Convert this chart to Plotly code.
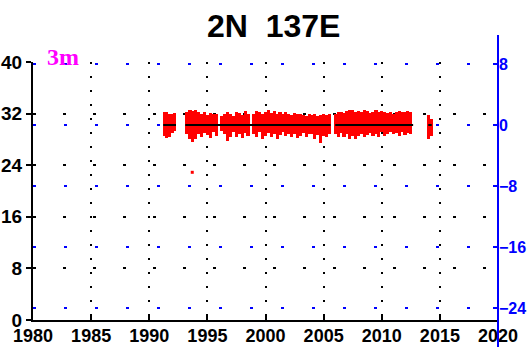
import plotly.graph_objects as go

# ---------------- data ----------------
years = [1991.3, 1991.5, 1991.75, 1992.0, 1992.2,
         1993.25, 1993.5, 1993.75, 1994.0, 1994.25, 1994.5, 1994.75, 1995.0, 1995.25, 1995.5, 1995.75,
         1996.25, 1996.5, 1996.75, 1997.0, 1997.25, 1997.5, 1997.75, 1998.0, 1998.25, 1998.5,
         1999.0, 1999.25, 1999.5, 1999.75, 2000.0, 2000.25, 2000.5, 2000.75, 2001.0, 2001.25,
         2001.5, 2001.75, 2002.0, 2002.25, 2002.5, 2002.75, 2003.0, 2003.25, 2003.5, 2003.75,
         2004.0, 2004.25, 2004.5, 2004.75, 2005.0, 2005.25, 2005.5,
         2006.0, 2006.25, 2006.5, 2006.75, 2007.0, 2007.25, 2007.5, 2007.75, 2008.0, 2008.25,
         2008.5, 2008.75, 2009.0, 2009.25, 2009.5, 2009.75, 2010.0, 2010.25, 2010.5, 2010.75,
         2011.0, 2011.25, 2011.5, 2011.75, 2012.0, 2012.25, 2012.5,
         2014.05, 2014.25]
temp_max = [32.2, 32.3, 32.0, 31.9, 32.1,
            32.3, 32.5, 32.4, 32.6, 32.3, 31.9, 32.2, 31.8, 32.1, 31.9, 32.0,
            31.6, 32.0, 32.2, 31.9, 31.7, 32.3, 32.1, 31.8, 32.4, 32.0,
            32.0, 32.4, 32.2, 31.9, 32.3, 32.5, 32.1, 32.4, 32.0, 32.3,
            31.9, 32.2, 32.0, 31.8, 32.1, 31.9, 32.0, 31.8, 31.7, 31.9,
            31.8, 31.9, 31.7, 31.8, 31.9, 31.8, 31.9,
            32.0, 32.2, 32.3, 32.1, 32.4, 32.6, 32.5, 32.3, 32.4, 32.2,
            32.5, 32.4, 32.1, 32.3, 32.5, 32.2, 32.4, 32.3, 32.1, 32.2,
            32.0, 32.3, 32.4, 32.2, 32.3, 32.4, 32.3,
            31.8, 31.2]
temp_min = [28.6, 28.2, 28.3, 29.0, 29.3,
            28.8, 28.1, 27.6, 28.0, 28.9, 28.4, 29.0, 28.7, 28.2, 29.2, 28.6,
            29.3, 28.9, 27.8, 28.4, 29.1, 28.3, 28.9, 28.2, 29.0, 28.6,
            28.8, 28.4, 29.2, 28.0, 28.6, 29.0, 28.3, 28.9, 28.1, 28.7,
            29.1, 28.5, 28.9, 28.4, 28.8, 28.2, 28.6, 29.0, 28.4, 28.8,
            28.9, 28.1, 28.7, 27.5, 28.6, 28.3, 28.9,
            28.8, 28.4, 29.0, 28.3, 28.8, 28.1, 28.6, 28.0, 28.5, 28.9,
            28.3, 28.7, 29.0, 28.5, 28.9, 28.4, 29.1, 28.6, 28.9, 29.2,
            28.8, 29.0, 28.5, 29.2, 28.7, 29.0, 28.8,
            28.0, 28.6]
outlier_year = [1993.7]
outlier_temp = [22.9]

# black reference line (right axis, value 0) over the record's coverage
line_x = [1991.2, 1992.3, None, 1993.1, 2005.6, None, 2006.0, 2012.7, None, 2014.0, 2014.3]
line_y = [0, 0, None, 0, 0, None, 0, 0, None, 0, 0]

left_ticks = [0, 8, 16, 24, 32, 40]
right_ticks = [8, 0, -8, -16, -24]
x_ticks = [1980, 1985, 1990, 1995, 2000, 2005, 2010, 2015, 2020]

# ---------------- figure ----------------
fig = go.Figure()
fig.add_trace(go.Bar(
    x=years, y=[a - b for a, b in zip(temp_max, temp_min)], base=temp_min,
    width=0.27, marker=dict(color="#ff0000", line=dict(width=0)),
    showlegend=False, yaxis="y"))
fig.add_trace(go.Scatter(
    x=outlier_year, y=outlier_temp, mode="markers",
    marker=dict(color="#ff0000", size=3, symbol="square"),
    showlegend=False, yaxis="y"))
fig.add_trace(go.Scatter(
    x=line_x, y=line_y, mode="lines", line=dict(color="black", width=2),
    showlegend=False, yaxis="y2"))

fig.update_layout(
    width=531, height=347,
    margin=dict(l=33, r=33, t=62, b=27),
    paper_bgcolor="white", plot_bgcolor="white",
    font=dict(family="Liberation Sans", color="black"),
    xaxis=dict(
        range=[1980, 2020], tickvals=x_ticks, ticktext=[str(v) for v in x_ticks],
        showline=True, linecolor="black", linewidth=2,
        ticks="inside", ticklen=5, tickcolor="black", tickwidth=2,
        showgrid=True, gridcolor="black", gridwidth=2, griddash="2px,12px",
        zeroline=False, automargin=False, ticklabelstandoff=-2,
        tickfont=dict(family="Liberation Sans", size=18, weight="bold", color="black")),
    yaxis=dict(
        range=[0, 40], tickvals=left_ticks,
        showline=True, linecolor="black", linewidth=2,
        ticks="outside", ticklen=5, tickcolor="black", tickwidth=2,
        showgrid=True, gridcolor="black", gridwidth=2, griddash="3px,27px",
        zeroline=False, automargin=False,
        tickfont=dict(family="Liberation Sans", size=19, weight="bold", color="black")),
    yaxis2=dict(
        range=[-25.57, 8.26], tickvals=right_ticks, overlaying="y", side="right",
        showline=False,
        ticks="inside", ticklen=5, tickcolor="#0000ff", tickwidth=2,
        showgrid=True, gridcolor="#0000ff", gridwidth=2, griddash="3px,28px",
        zeroline=False, automargin=False,
        tickfont=dict(family="Liberation Sans", size=16, weight="bold", color="#0000ff")),
    bargap=0,
    shapes=[dict(type="line", xref="paper", yref="paper", x0=1, x1=1, y0=-0.11, y1=1.105,
                 line=dict(color="#0000ff", width=2))],
    annotations=[
        dict(text="2N  137E", xref="paper", yref="paper", x=0.518, y=1.14,
             xanchor="center", yanchor="middle", showarrow=False,
             font=dict(family="Liberation Sans", size=32, weight="bold", color="black")),
        dict(text="3m", xref="paper", yref="paper", x=0.0645, y=1.02,
             xanchor="center", yanchor="middle", showarrow=False,
             font=dict(family="Liberation Serif", size=24, weight="bold", color="#ff00ff")),
    ],
)

fig.write_html("out.html", config={"displayModeBar": False},
               post_script="document.body.style.margin='0px';document.body.style.overflow='hidden';")
